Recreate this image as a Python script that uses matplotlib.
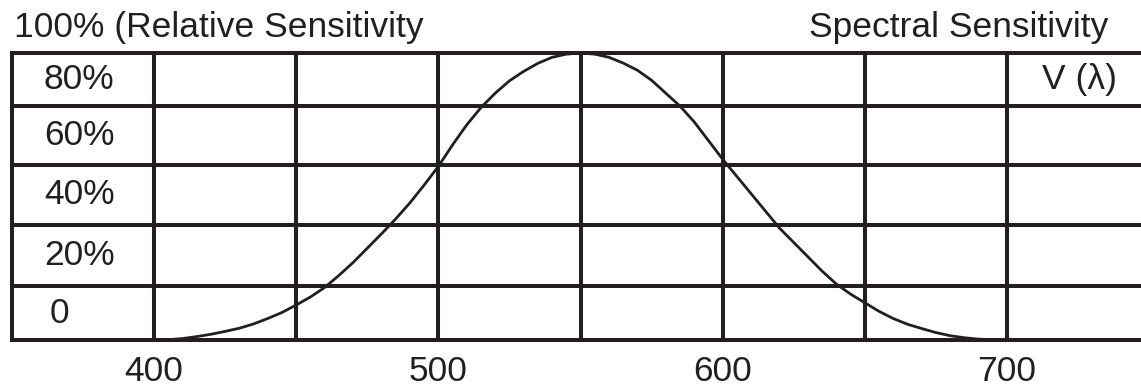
import matplotlib
matplotlib.use("Agg")
import matplotlib.pyplot as plt

plt.rcParams['font.family'] = ['Liberation Sans', 'DejaVu Sans']

# curve (wavelength in nm, relative sensitivity in %)
wavelength = [400, 405, 410, 415, 420, 425, 430, 435, 440, 445, 450,
              455, 460, 465, 470, 475, 480, 485, 490, 495, 500,
              505, 510, 515, 520, 525, 530, 535, 540, 545, 550,
              555, 560, 565, 570, 575, 580, 585, 590, 595, 600,
              605, 610, 615, 620, 625, 630, 635, 640, 645, 650,
              655, 660, 665, 670, 675, 680, 685, 690, 695, 700]
sensitivity = [0, 0.1, 0.5, 1.2, 2, 3, 4.1, 5.6, 7.5, 9.6, 12.2,
               15, 18.3, 22.5, 27, 32, 37, 42.2, 47.8, 54, 60.5,
               68, 75, 81, 86, 90.3, 93.6, 96.4, 98.5, 99.6, 100,
               99.6, 98.5, 96.5, 94, 90.5, 86, 81.5, 76, 69.5, 63,
               57, 51, 45, 39, 34, 29, 24, 19.5, 16, 13,
               10, 7.5, 5.5, 4, 2.6, 1.5, 0.8, 0.3, 0.1, 0]

row_labels = ['80%', '60%', '40%', '20%', '0']
x_ticks = [400, 450, 500, 550, 600, 650, 700]
x_tick_labels = ['400', '', '500', '', '600', '', '700']

ink = '#231f20'
lw = 2.9
fs = 25.5

# row lines as drawn in the source (rows are not quite even)
row_lines = [18.8, 40.2, 61.1, 81.6]
row_mid = [90.8, 71.3, 50.6, 29.5, 9.4]

fig = plt.figure(figsize=(11.41, 3.89), dpi=100)
ax = fig.add_axes([12 / 1141, 49 / 389, 1137 / 1141, 287 / 389])

ax.plot(wavelength, sensitivity, color=ink, lw=2.0, clip_on=False, zorder=3)

ax.set_xlim(350, 750)
ax.set_ylim(0, 100)

for x in x_ticks:
    ax.axvline(x, color=ink, lw=lw, zorder=2)
for y in row_lines:
    ax.axhline(y, color=ink, lw=lw, zorder=2)

for s in ax.spines.values():
    s.set_color(ink)
    s.set_linewidth(lw)

ax.set_xticks(x_ticks)
ax.set_xticklabels(x_tick_labels, fontsize=fs, color=ink)
ax.tick_params(axis='x', length=0, pad=11)
ax.set_yticks([])

for lab, y in zip(row_labels, row_mid):
    ha = 'center' if lab != '0' else 'left'
    xpos = 373.6 if lab != '0' else 363.3
    ax.text(xpos, y, lab, ha=ha, va='center', fontsize=fs, color=ink)

ax.text(725.5, row_mid[0], 'V (\u03bb)', ha='center', va='center', fontsize=fs, color=ink)

fig.text(14 / 1141, 1 - 27 / 389, '100% (Relative Sensitivity', ha='left', va='center',
         fontsize=fs, color=ink)
fig.text(1108 / 1141, 1 - 27 / 389, 'Spectral Sensitivity', ha='right', va='center',
         fontsize=fs, color=ink)

fig.savefig('out.png', dpi=100)
